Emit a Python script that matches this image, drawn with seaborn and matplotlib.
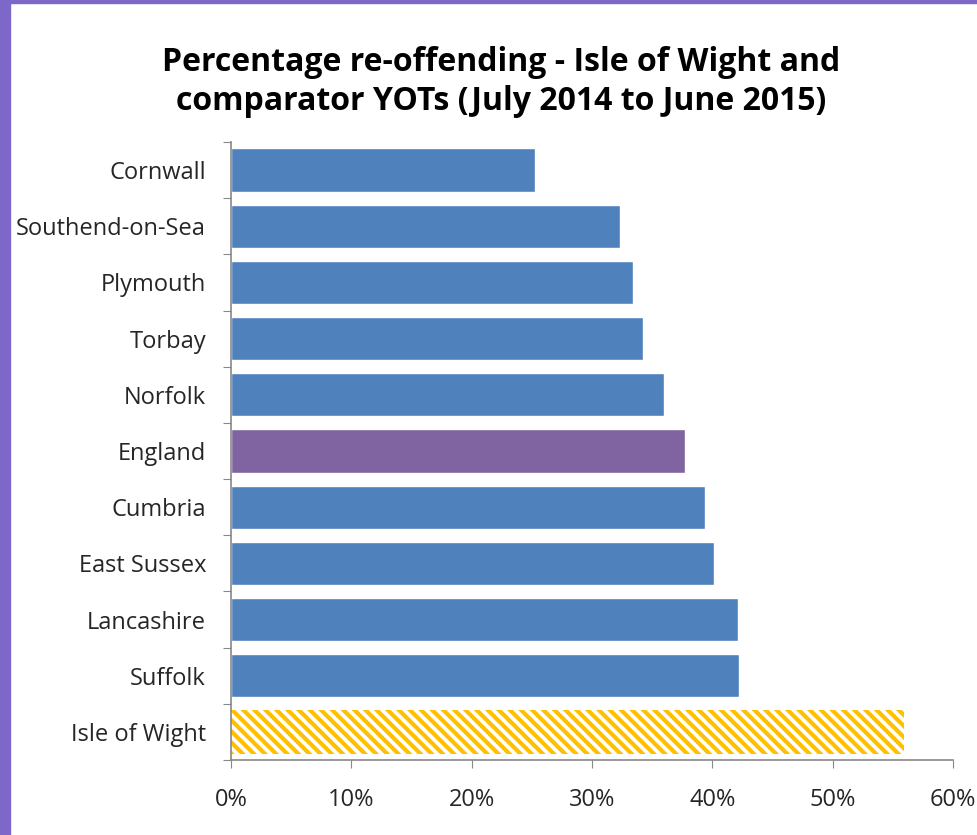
import pandas as pd
import matplotlib.pyplot as plt
import seaborn as sns
from matplotlib.patches import Rectangle
from matplotlib.ticker import PercentFormatter

# data
areas = ['Cornwall', 'Southend-on-Sea', 'Plymouth', 'Torbay', 'Norfolk', 'England',
         'Cumbria', 'East Sussex', 'Lancashire', 'Suffolk', 'Isle of Wight']
reoffend_pct = [25.3, 32.3, 33.4, 34.2, 36.0, 37.7, 39.4, 40.1, 42.1, 42.2, 55.9]
x_ticks = [0, 10, 20, 30, 40, 50, 60]

df = pd.DataFrame({'area': areas, 'pct': reoffend_pct})

blue = '#4F81BD'
purple = '#8064A2'
gold = '#FFC000'
colours = [purple if a == 'England' else ('white' if a == 'Isle of Wight' else blue) for a in areas]

sns.set_style('white')
plt.rcParams['font.family'] = ['Open Sans', 'DejaVu Sans']
plt.rcParams['hatch.linewidth'] = 3.0

fig = plt.figure(figsize=(9.78, 8.35), dpi=100)
ax = fig.add_axes([0.2362, 0.0898, 0.7382, 0.7402])

sns.barplot(data=df, y='area', x='pct', hue='area', palette=colours, legend=False,
            orient='h', width=0.77, ax=ax, saturation=1)

# hatched Isle of Wight bar
iow = ax.patches[areas.index('Isle of Wight')]
iow.set_facecolor('white')
iow.set_edgecolor(gold)
iow.set_hatch('\\' * 3)
iow.set_linewidth(0)

ax.set_xlim(0, 60)
ax.set_ylim(len(areas) - 0.5, -0.5)
ax.set_xticks(x_ticks)
ax.xaxis.set_major_formatter(PercentFormatter(decimals=0))
ax.set_yticks([i - 0.5 for i in range(len(areas) + 1)], minor=False)
ax.set_yticklabels([])
ax.set_yticks(range(len(areas)), minor=True)
ax.set_yticklabels(areas, minor=True)
ax.tick_params(axis='y', which='minor', length=0, pad=18, labelsize=17, colors='#262626')
ax.tick_params(axis='y', which='major', length=6, color='#888888', direction='out', left=True)
ax.tick_params(axis='x', length=6, color='#888888', direction='out', bottom=True,
               labelsize=17, colors='#262626', pad=14)
ax.set_xlabel('')
ax.set_ylabel('')
for s in ['top', 'right']:
    ax.spines[s].set_visible(False)
for s in ['left', 'bottom']:
    ax.spines[s].set_color('#888888')
    ax.spines[s].set_linewidth(1.2)

fig.text(0.512, 0.902, 'Percentage re-offending - Isle of Wight and\ncomparator YOTs (July 2014 to June 2015)',
         ha='center', va='center', fontsize=23, fontweight='bold', linespacing=1.25, color='black')

# purple frame on the left and top
fig.patches.append(Rectangle((0, 0), 0.0105, 1, transform=fig.transFigure, color='#7D67C8', zorder=0))
fig.patches.append(Rectangle((0, 0.9965), 1, 0.0035, transform=fig.transFigure, color='#7D67C8', zorder=0))

fig.savefig('out.png', dpi=100)
